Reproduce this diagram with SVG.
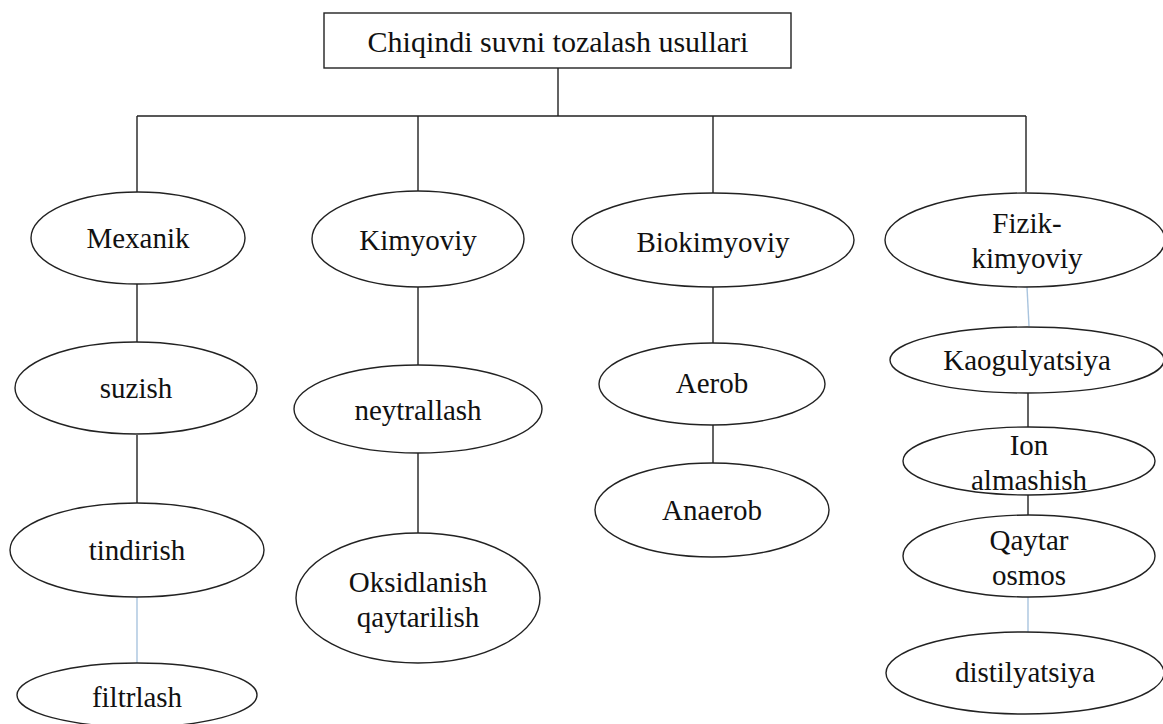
<svg xmlns="http://www.w3.org/2000/svg" width="1163" height="724" viewBox="0 0 1163 724">
<style>
.n{fill:#fff;stroke:#222;stroke-width:1.4}
.t{font-family:"Liberation Serif","Times New Roman",serif;font-size:29px;fill:#111;text-anchor:middle}
.c{stroke:#222;stroke-width:1.4;fill:none}
.lb{stroke:#a9c4de;stroke-width:1.4;fill:none}
</style>
<rect width="1163" height="724" fill="#fff"/>
<g id="connectors">
<path class="c" d="M558 68V116M137 116H1026M137 116V192M418 116V191M713 116V193M1026 116V192"/>
<path class="c" d="M137 283V342M137 435V503"/>
<path class="lb" d="M137 597V663"/>
<path class="c" d="M418 287V365M418 453V533"/>
<path class="c" d="M713 287V343M713 425V463"/>
<path class="lb" d="M1027 287L1029 326"/>
<path class="c" d="M1028 393V427M1028 495V515"/>
<path class="lb" d="M1028 597V632"/>
</g>
<g id="root"><rect class="n" x="324" y="13" width="467" height="55"/><text class="t" x="558" y="52" style="font-size:30px">Chiqindi suvni tozalash usullari</text></g>
<g id="mexanik"><ellipse class="n" cx="138" cy="238" rx="107" ry="46"/><text class="t" x="138" y="248">Mexanik</text></g>
<g id="suzish"><ellipse class="n" cx="136" cy="388" rx="121" ry="46"/><text class="t" x="136" y="398">suzish</text></g>
<g id="tindirish"><ellipse class="n" cx="137" cy="550" rx="127" ry="47"/><text class="t" x="137" y="560">tindirish</text></g>
<g id="filtrlash"><ellipse class="n" cx="137" cy="695" rx="120" ry="32"/><text class="t" x="137" y="707">filtrlash</text></g>
<g id="kimyoviy"><ellipse class="n" cx="418" cy="239" rx="106" ry="48"/><text class="t" x="418" y="250">Kimyoviy</text></g>
<g id="neytrallash"><ellipse class="n" cx="418" cy="409" rx="124" ry="44"/><text class="t" x="418" y="420">neytrallash</text></g>
<g id="oksidlanish"><ellipse class="n" cx="418" cy="598" rx="122" ry="65"/><text class="t" x="418" y="592">Oksidlanish</text><text class="t" x="418" y="627">qaytarilish</text></g>
<g id="biokimyoviy"><ellipse class="n" cx="713" cy="240" rx="141" ry="47"/><text class="t" x="713" y="252">Biokimyoviy</text></g>
<g id="aerob"><ellipse class="n" cx="712" cy="384" rx="113" ry="41"/><text class="t" x="712" y="393">Aerob</text></g>
<g id="anaerob"><ellipse class="n" cx="712" cy="510" rx="117" ry="47"/><text class="t" x="712" y="520">Anaerob</text></g>
<g id="fizik"><ellipse class="n" cx="1025" cy="240" rx="140" ry="47"/><text class="t" x="1027" y="233">Fizik-</text><text class="t" x="1027" y="268">kimyoviy</text></g>
<g id="kaogulyatsiya"><ellipse class="n" cx="1027" cy="360" rx="137" ry="33"/><text class="t" x="1027" y="370">Kaogulyatsiya</text></g>
<g id="ion"><ellipse class="n" cx="1029" cy="461" rx="126" ry="34"/><text class="t" x="1029" y="455">Ion</text><text class="t" x="1029" y="490">almashish</text></g>
<g id="qaytar"><ellipse class="n" cx="1029" cy="556" rx="126" ry="41"/><text class="t" x="1029" y="550">Qaytar</text><text class="t" x="1029" y="585">osmos</text></g>
<g id="distilyatsiya"><ellipse class="n" cx="1025" cy="673" rx="139" ry="41"/><text class="t" x="1025" y="682">distilyatsiya</text></g>
</svg>
